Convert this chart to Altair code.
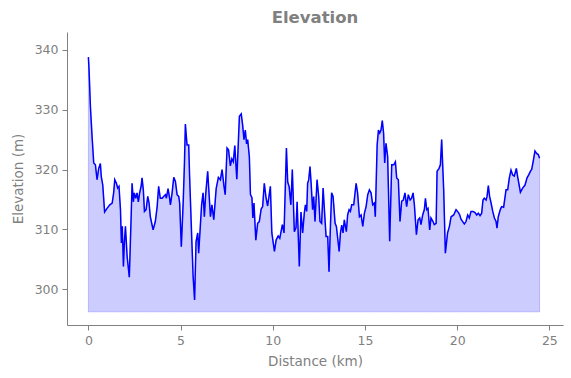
import altair as alt
import pandas as pd

# Distance along the route (km)
distance_km = [
    0.00, 0.03, 0.11, 0.20, 0.29, 0.38, 0.47, 0.56, 0.65, 0.70,
    0.78, 0.88, 1.01, 1.16, 1.29, 1.37, 1.43, 1.52, 1.59, 1.66,
    1.74, 1.79, 1.84, 1.90, 1.95, 2.01, 2.10, 2.22, 2.33, 2.37,
    2.44, 2.49, 2.57, 2.64, 2.71, 2.78, 2.86, 2.91, 2.98, 3.04,
    3.13, 3.22, 3.29, 3.36, 3.51, 3.63, 3.73, 3.81, 3.90, 4.00,
    4.08, 4.18, 4.23, 4.32, 4.39, 4.45, 4.54, 4.63, 4.72, 4.81,
    4.90, 4.95, 5.04, 5.14, 5.21, 5.26, 5.35, 5.44, 5.49, 5.59,
    5.68, 5.76,
    5.84, 5.93, 5.98, 6.07, 6.14, 6.22, 6.29, 6.36, 6.47, 6.62,
    6.70, 6.80, 6.93, 7.05, 7.16, 7.25, 7.35, 7.42, 7.52, 7.60,
    7.70, 7.78, 7.86, 7.94, 8.05, 8.19, 8.29, 8.36, 8.44, 8.51,
    8.58, 8.64, 8.73, 8.79, 8.87, 8.92, 8.98, 9.08, 9.18, 9.27,
    9.37, 9.45, 9.54, 9.63, 9.72, 9.87, 9.95, 10.09, 10.18, 10.29,
    10.38, 10.52, 10.61, 10.74, 10.81, 10.89, 10.98, 11.06, 11.17, 11.26,
    11.32, 11.44, 11.53, 11.62, 11.71, 11.77, 11.84, 11.89, 11.95, 12.02,
    12.08, 12.16, 12.22, 12.29, 12.40, 12.49, 12.56, 12.65, 12.73, 12.80,
    12.89, 12.98, 13.05, 13.12, 13.19, 13.27, 13.38, 13.45, 13.60, 13.67,
    13.74, 13.81, 13.88, 13.99, 14.06, 14.14, 14.21, 14.28, 14.39, 14.52,
    14.60, 14.70, 14.79, 14.88, 14.97, 15.06, 15.15, 15.24, 15.33, 15.42,
    15.51, 15.56, 15.66, 15.73, 15.80, 15.87, 15.94, 16.01, 16.07, 16.14,
    16.23, 16.34, 16.45, 16.56, 16.65, 16.72, 16.81, 16.90, 16.99, 17.08,
    17.17, 17.26, 17.35, 17.45, 17.53, 17.61, 17.68, 17.79, 17.88, 17.97,
    18.04, 18.13, 18.22, 18.28, 18.35, 18.42, 18.51, 18.58, 18.69, 18.76,
    18.86, 18.91, 19.02, 19.09, 19.16, 19.27, 19.36, 19.48, 19.58, 19.67,
    19.81, 19.94, 20.07, 20.14, 20.21, 20.30, 20.39, 20.48, 20.57, 20.66,
    20.75, 20.86, 20.97, 21.06, 21.15, 21.24, 21.33, 21.40, 21.47, 21.57,
    21.62, 21.69, 21.76, 21.84, 21.93, 22.02, 22.11, 22.16, 22.23, 22.34,
    22.41, 22.52, 22.65, 22.74, 22.83, 22.92, 23.01, 23.10, 23.21, 23.28,
    23.43, 23.55, 23.68, 23.79, 23.88, 23.97, 24.04, 24.12, 24.22, 24.31,
    24.40, 24.47,
]

# Elevation (m)
elevation_m = [
    338.8, 337.2, 330.5, 325.5, 321.1, 320.8, 318.3, 320.2, 321.0, 318.8,
    317.4, 312.9, 313.5, 314.1, 314.4, 316.1, 318.3, 317.7, 316.9, 317.2,
    313.3, 307.7, 310.5, 303.8, 307.7, 310.5, 305.5, 302.0, 313.3, 317.7,
    314.6, 316.1, 315.2, 316.1, 314.6, 316.1, 317.2, 318.6, 316.6, 313.0,
    313.3, 315.5, 314.4, 312.1, 309.9, 311.3, 313.8, 317.2, 315.2, 315.2,
    315.5, 315.8, 315.2, 316.8, 315.5, 314.1, 316.1, 318.7, 318.0, 315.8,
    315.5, 314.4, 307.1, 314.4, 321.1, 327.6, 324.1, 324.1, 318.8, 309.9,
    302.1, 298.2,
    308.0, 309.4, 306.0, 310.5, 314.1, 316.1, 312.1, 315.8, 319.7, 312.1,
    314.1, 311.6, 316.8, 318.7, 318.3, 320.0, 317.3, 315.8, 323.6, 323.3,
    320.6, 321.8, 321.3, 324.0, 318.4, 328.9, 329.3, 327.6, 325.0, 326.6,
    324.3, 325.0, 322.1, 315.8, 315.3, 311.9, 314.4, 308.2, 311.0, 311.3,
    313.4, 313.8, 317.7, 315.4, 313.9, 317.2, 309.4, 306.3, 308.2, 308.9,
    308.5, 310.8, 309.4, 323.6, 317.9, 317.1, 314.1, 320.0, 309.6, 310.3,
    314.6, 303.8, 312.9, 309.4, 312.7, 314.1, 313.0, 317.7, 318.3, 320.5,
    317.7, 313.3, 315.5, 311.3, 318.3, 315.5, 311.3, 311.0, 316.9, 313.3,
    308.8, 308.8, 302.9, 309.9, 316.1, 315.5, 311.0, 310.5, 306.3, 309.4,
    310.7, 309.4, 311.6, 309.6, 312.4, 313.3, 313.0, 314.1, 314.1, 317.7,
    316.1, 312.1, 312.4, 310.5, 312.7, 313.8, 315.8, 316.6, 316.1, 314.1,
    314.4, 312.1, 324.1, 326.6, 326.1, 326.6, 328.2, 326.1, 321.1, 324.4,
    322.2, 308.0, 320.8, 320.8, 321.3, 318.6, 318.3, 311.3, 314.7, 314.9,
    316.1, 313.8, 315.8, 314.9, 315.2, 316.1, 314.1, 309.1, 311.6, 311.9,
    310.8, 312.4, 313.3, 315.2, 313.3, 313.5, 309.9, 311.9, 311.3, 310.8,
    311.0, 319.7, 320.2, 320.8, 325.0, 316.6, 306.0, 309.4, 310.5, 312.1,
    312.4, 313.3, 312.8, 312.4, 311.7, 311.3, 310.9, 311.3, 312.4, 311.9,
    313.0, 313.0, 312.8, 312.4, 312.7, 312.3, 312.7, 314.9, 315.2, 314.9,
    315.5, 317.3, 315.5, 314.4, 313.0, 311.9, 311.3, 310.2, 312.1, 313.3,
    313.8, 313.7, 316.6, 316.6, 318.6, 319.9, 319.1, 318.9, 320.2, 318.8,
    316.2, 316.9, 317.4, 318.6, 319.1, 319.7, 320.0, 321.3, 323.1, 322.7,
    322.5, 321.9,
]

fill_base_m = 296.2
x_ticks = [0, 5, 10, 15, 20, 25]
y_ticks = [300, 310, 320, 330, 340]

df = pd.DataFrame({"km": distance_km, "elev": elevation_m})
df["base"] = fill_base_m

FONT = "DejaVu Sans"
GRAY = "#808080"

x_enc = alt.X(
    "km:Q",
    title="Distance (km)",
    scale=alt.Scale(domain=[-1.16, 25.74], nice=False, zero=False),
    axis=alt.Axis(values=x_ticks, format="d"),
)
y_scale = alt.Scale(domain=[294.0, 343.0], nice=False, zero=False)

area = alt.Chart(df).mark_area(
    color="blue", fillOpacity=0.2, stroke="blue", strokeOpacity=0.2, strokeWidth=1
).encode(
    x=x_enc,
    y=alt.Y("elev:Q", title="Elevation (m)", scale=y_scale,
            axis=alt.Axis(values=y_ticks, format="d")),
    y2="base:Q",
)

line = alt.Chart(df).mark_line(color="blue", strokeWidth=1.5).encode(
    x=x_enc,
    y=alt.Y("elev:Q", scale=y_scale),
)

chart = alt.layer(area, line).properties(
    width=496,
    height=293,
    autosize=alt.AutoSizeParams(type="none"),
    padding={"left": 67, "top": 32, "right": 8, "bottom": 53},
    title=alt.TitleParams(
        "Elevation", fontSize=16.5, fontWeight="bold", color=GRAY,
        font=FONT, offset=6, anchor="middle",
    ),
).configure_view(
    stroke=None
).configure_axis(
    grid=False,
    domainColor=GRAY,
    domainWidth=1,
    tickColor=GRAY,
    tickSize=5,
    tickWidth=1,
    labelColor=GRAY,
    labelFont=FONT,
    labelFontSize=12.5,
    labelPadding=4,
    titleColor=GRAY,
    titleFont=FONT,
    titleFontSize=13.5,
    titleFontWeight="normal",
).configure_axisX(
    titlePadding=8,
).configure_axisY(
    titlePadding=9,
)

chart.save("out.html", embed_options={"renderer": "svg", "actions": False})
